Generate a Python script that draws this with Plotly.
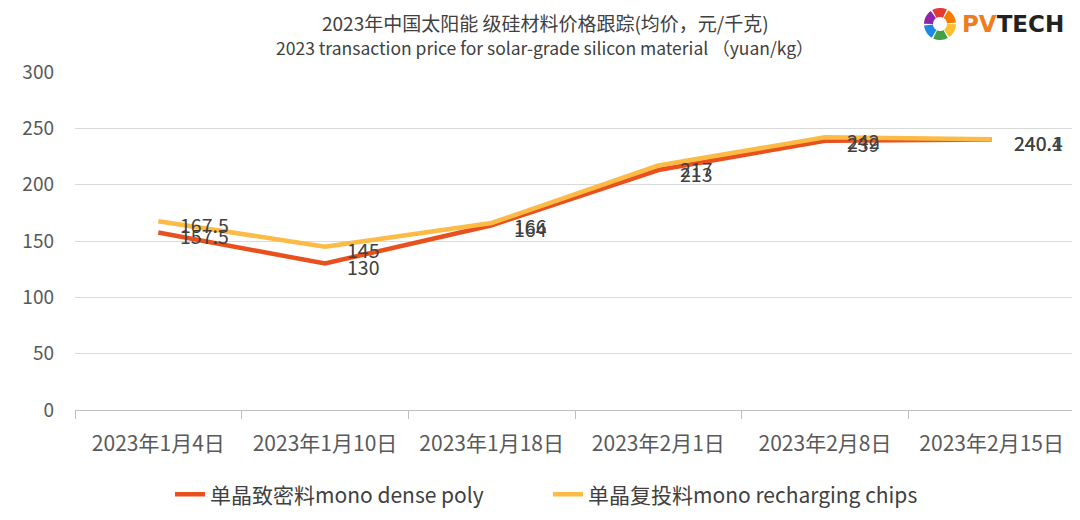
import math
import plotly.graph_objects as go

dates = ["2023年1月4日", "2023年1月10日", "2023年1月18日", "2023年2月1日", "2023年2月8日", "2023年2月15日"]
dense = [157.5, 130, 164, 213, 239, 240.1]
recharge = [167.5, 145, 166, 217, 242, 240.4]
dense_name = "单晶致密料mono dense poly"
recharge_name = "单晶复投料mono recharging chips"
title_cn = "2023年中国太阳能 级硅材料价格跟踪(均价，元/千克)"
title_en = "2023 transaction price for solar-grade silicon material （yuan/kg）"
logo_colors = ["#E53935", "#8E24AA", "#1E88E5", "#43A047", "#FBC02D", "#F57C00"]

font = "Noto Sans CJK SC, Noto Sans, sans-serif"
fig = go.Figure()

for name, vals, color in [(dense_name, dense, "#E8501E"), (recharge_name, recharge, "#FDBA45")]:
    fig.add_trace(go.Scatter(x=dates, y=vals, name=name, mode="lines",
                             line=dict(color=color, width=4.5)))
    for d, v in zip(dates, vals):
        fig.add_annotation(x=d, y=v, text=str(v), showarrow=False, xanchor="left",
                           yanchor="middle", xshift=20, yshift=-3,
                           font=dict(size=19.5, color="#404040"))


# logo ring, drawn as annular sectors in pixel units
def sector(a0, a1, r0=7, r1=16, n=8):
    pts = []
    for i in range(n + 1):
        a = math.radians(a0 + (a1 - a0) * i / n)
        pts.append((r1 * math.cos(a), r1 * math.sin(a)))
    for i in range(n, -1, -1):
        a = math.radians(a0 + (a1 - a0) * i / n)
        pts.append((r0 * math.cos(a), r0 * math.sin(a)))
    return "M " + " L ".join(f"{x:.2f},{y:.2f}" for x, y in pts) + " Z"


for i, c in enumerate(logo_colors):
    fig.add_shape(type="path", path=sector(65 + i * 60, 65 + i * 60 + 54),
                  xref="paper", yref="paper", xsizemode="pixel", ysizemode="pixel",
                  xanchor=0.865, yanchor=1.142, fillcolor=c, line_width=0)

fig.add_annotation(x=0.885, y=1.142, xref="paper", yref="paper", xanchor="left", yanchor="middle",
                   showarrow=False,
                   text="<b><span style='color:#F07C22'>PV</span><span style='color:#222'>TECH</span></b>",
                   font=dict(size=23, family="DejaVu Sans"))

# two-line title
fig.add_annotation(x=0.47, y=1.1466, xref="paper", yref="paper", xanchor="center", yanchor="middle",
                   showarrow=False, text=title_cn, font=dict(size=19, color="#404040"))
fig.add_annotation(x=0.47, y=1.0733, xref="paper", yref="paper", xanchor="center", yanchor="middle",
                   showarrow=False, text=title_en, font=dict(size=17.5, color="#404040"))

fig.update_layout(
    width=1072, height=512,
    margin=dict(l=67, r=5, t=64, b=107),
    paper_bgcolor="white", plot_bgcolor="white",
    font=dict(family=font, color="#595959", size=16),
    showlegend=True,
    legend=dict(orientation="h", x=0.095, xanchor="left", y=-0.19, yanchor="top",
                font=dict(size=21, color="#404040"), entrywidth=333, entrywidthmode="pixels"),
    xaxis=dict(type="category", range=[-0.5, 5.5], showline=True, linecolor="#bfbfbf", linewidth=1,
               ticks="outside", tickson="boundaries", ticklen=8, tickcolor="#bfbfbf",
               showgrid=False, tickfont=dict(size=21, color="#595959"), ticklabelstandoff=15),
    yaxis=dict(range=[0, 300], dtick=50, showgrid=True, gridcolor="#d9d9d9",
               zeroline=False, tickfont=dict(size=19, color="#595959"), ticklabelstandoff=20),
)

fig.write_html("out.html")
